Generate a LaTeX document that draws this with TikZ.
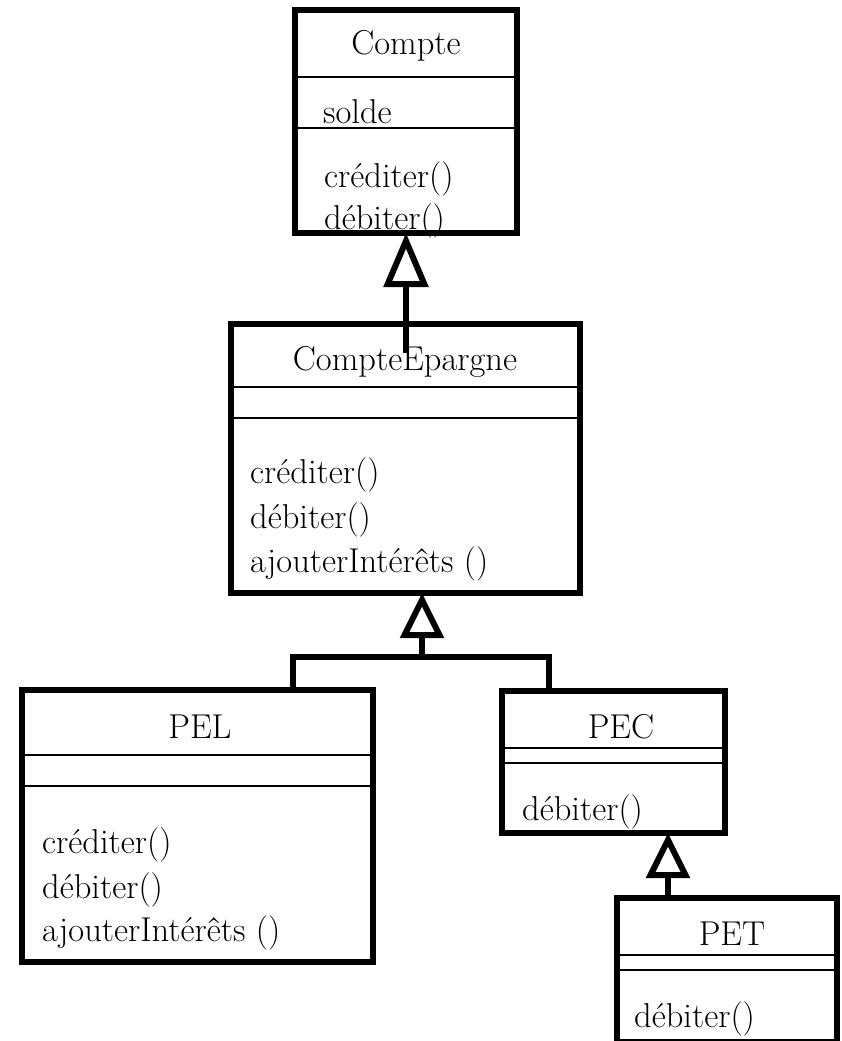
\documentclass[tikz,border=0pt]{standalone}
\usetikzlibrary{arrows.meta}
\begin{document}
\begin{tikzpicture}[x=1pt,y=-1pt,
  box/.style={draw, line width=6pt, rectangle, inner sep=0pt, outer sep=0pt},
  sep/.style={line width=2.5pt},
  txt/.style={inner sep=0pt, font=\fontsize{34.5}{41}\selectfont},
  title/.style={txt, anchor=base},
  mth/.style={txt, anchor=base west},
  link/.style={line width=6pt, line join=miter},
  gen/.style={line width=6pt, -{Triangle[open,length=54pt,width=44pt]}},
  gensmall/.style={line width=6pt, -{Triangle[open,length=45pt,width=43pt]}}]
\useasboundingbox (0,0) rectangle (842,1041);
\fill[white] (0,0) rectangle (842,1041);

% Compte
\node[box, minimum width=222pt, minimum height=223pt] (Compte) at (406,121.5) {};
\draw[sep] (Compte.west |- 0,77) -- (Compte.east |- 0,77);
\draw[sep] (Compte.west |- 0,128) -- (Compte.east |- 0,128);
\node[title] (tCompte) at (406,55) {Compte};
\node[mth] (aCompte) at (323,123) {solde};
\node[mth] (m1Compte) at (324,187) {créditer()};
\node[mth] (m2Compte) at (324,229) {débiter()};

% CompteEpargne
\node[box, minimum width=349pt, minimum height=269pt] (CE) at (405.5,458.5) {};
\draw[sep] (CE.west |- 0,387) -- (CE.east |- 0,387);
\draw[sep] (CE.west |- 0,418) -- (CE.east |- 0,418);
\node[title] (tCE) at (405,370) {CompteEpargne};
\node[mth] (m1CE) at (250,483) {créditer()};
\node[mth] (m2CE) at (250,528) {débiter()};
\node[mth] (m3CE) at (250,572) {ajouterIntérêts ()};

% PEL
\node[box, minimum width=351pt, minimum height=272pt] (PEL) at (197.5,826) {};
\draw[sep] (PEL.west |- 0,755) -- (PEL.east |- 0,755);
\draw[sep] (PEL.west |- 0,786) -- (PEL.east |- 0,786);
\node[title] (tPEL) at (200,738) {PEL};
\node[mth] (m1PEL) at (42,853) {créditer()};
\node[mth] (m2PEL) at (42,898) {débiter()};
\node[mth] (m3PEL) at (42,941) {ajouterIntérêts ()};

% PEC
\node[box, minimum width=223pt, minimum height=142pt] (PEC) at (613.5,762) {};
\draw[sep] (PEC.west |- 0,748) -- (PEC.east |- 0,748);
\draw[sep] (PEC.west |- 0,763) -- (PEC.east |- 0,763);
\node[title] (tPEC) at (621,738) {PEC};
\node[mth] (m1PEC) at (522,820) {débiter()};

% PET
\node[box, minimum width=220pt, minimum height=144pt] (PET) at (727,970) {};
\draw[sep] (PET.west |- 0,955) -- (PET.east |- 0,955);
\draw[sep] (PET.west |- 0,970) -- (PET.east |- 0,970);
\node[title] (tPET) at (732,945) {PET};
\node[mth] (m1PET) at (634,1027) {débiter()};

% connectors
\coordinate (ceIn) at (406,353);
\draw[gen] (ceIn) -- (Compte.south);
\coordinate (jn) at (422,657);
\coordinate (pelc) at (293,657);
\coordinate (pecc) at (549,657);
\draw[link] (PEL.north -| pelc) |- (jn) -| (PEC.north -| pecc);
\draw[gensmall] (jn) -- (jn |- CE.south);
\coordinate (petc) at (668,0);
\draw[gensmall] (PET.north -| petc) -- (PEC.south -| petc);
\end{tikzpicture}
\end{document}
